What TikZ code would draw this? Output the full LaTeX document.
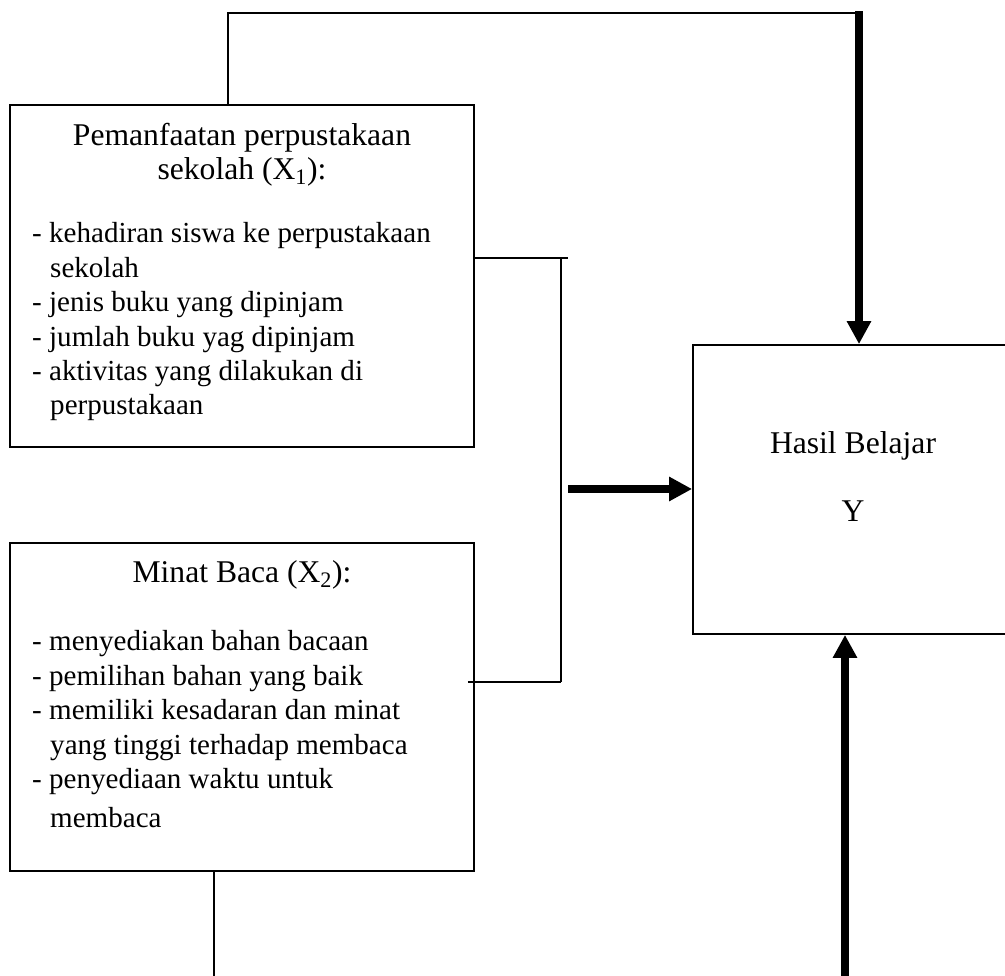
\documentclass[tikz,border=0pt]{standalone}
\usepackage{fontspec}
\setmainfont{Liberation Serif}
\usetikzlibrary{arrows.meta,positioning}

\begin{document}
\begin{tikzpicture}[
  varbox/.style={draw, line width=1.5pt, minimum width=13.92cm, inner sep=0pt},
  boxtitle/.style={align=center, inner sep=0pt, font=\fontsize{27}{29.8}\selectfont},
  itemlist/.style={align=left, inner sep=0pt, font=\fontsize{24.8}{29.4}\selectfont},
  thinline/.style={line width=1.5pt},
  bigflow/.style={-{Triangle[length=0.69cm, width=0.69cm]}, line width=6pt}
]
\useasboundingbox (0,0) rectangle (30.15,-29.28);

% the three boxes
\node[varbox, minimum height=10.26cm] (pustaka) at (7.26,-8.28) {};
\node[varbox, minimum height=9.84cm] (minat) at (7.26,-21.21) {};
\node[varbox, minimum width=9.51cm, minimum height=8.67cm] (hasil) at (25.545,-14.685) {};

% texts (base = last line)
\node[boxtitle, anchor=base] (pustakatitle) at (7.26,-5.40)
  {Pemanfaatan perpustakaan\\sekolah (X\textsubscript{1}):};
\node[itemlist, anchor=base west] (pustakalist) at (0.96,-12.45)
  {- kehadiran siswa ke perpustakaan\\
   \hspace*{0.54cm}sekolah\\
   - jenis buku yang dipinjam\\
   - jumlah buku yag dipinjam\\
   - aktivitas yang dilakukan di\\
   \hspace*{0.54cm}perpustakaan};
\node[boxtitle, anchor=base] (minattitle) at (7.26,-17.49) {Minat Baca (X\textsubscript{2}):};
\node[itemlist, anchor=base west] (minatlist) at (0.96,-24.81)
  {- menyediakan bahan bacaan\\
   - pemilihan bahan yang baik\\
   - memiliki kesadaran dan minat\\
   \hspace*{0.54cm}yang tinggi terhadap membaca\\
   - penyediaan waktu untuk\\[0.12cm]
   \hspace*{0.54cm}membaca};
\node[boxtitle, anchor=base] (hasiltitle) at (25.59,-15.66) {Hasil Belajar\\[1cm]Y};

% connectors
\coordinate (topturn) at (25.77,-0.39);
\coordinate (bracktop) at (17.04,-7.74);
\coordinate (brackbot) at (16.83,-20.46);
\coordinate (mergeout) at (17.04,-14.67);
\coordinate (bottomleft) at (6.42,-29.5);
\coordinate (bottomright) at (25.35,-29.5);

\draw[thinline] ([xshift=-0.42cm]pustaka.north) |- (topturn);
\draw[bigflow] ([yshift=0.05cm]topturn) -- (topturn |- hasil.north);

\draw[thinline] (bracktop -| pustaka.east) -- (bracktop);
\draw[thinline] (brackbot |- bracktop) -- (brackbot);
\draw[thinline] ([xshift=-0.21cm]brackbot -| minat.east) -- (brackbot);
\draw[bigflow] (mergeout) -- (mergeout -| hasil.west);

\draw[thinline] (bottomleft |- minat.south) -- (bottomleft);
\draw[bigflow] (bottomright) -- (bottomright |- hasil.south);

\end{tikzpicture}
\end{document}
